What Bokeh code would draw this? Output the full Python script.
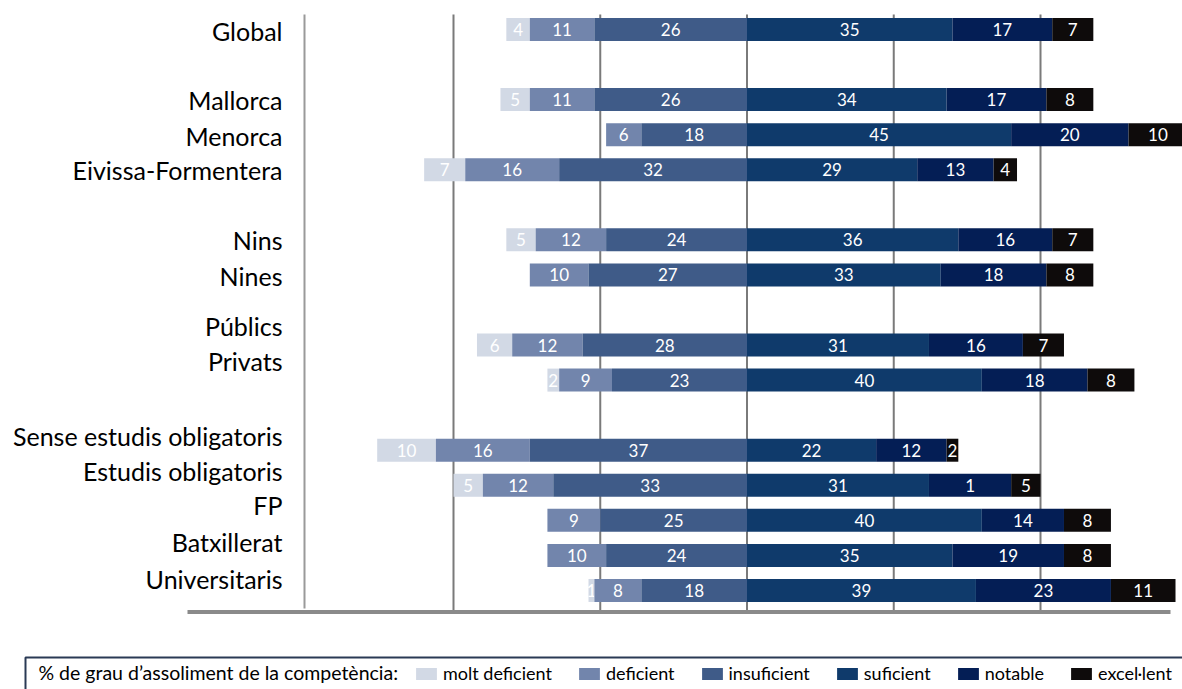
from bokeh.plotting import figure
from bokeh.models import Range1d, ColumnDataSource, Legend, LegendItem
from bokeh.core.properties import value
from bokeh.embed import file_html
from bokeh.resources import INLINE

# ---------------- data ----------------
categories = ["Global", "Mallorca", "Menorca", "Eivissa-Formentera",
              "Nins", "Nines", "Públics", "Privats",
              "Sense estudis obligatoris", "Estudis obligatoris", "FP",
              "Batxillerat", "Universitaris"]
levels = ["molt deficient", "deficient", "insuficient",
          "suficient", "notable", "excel·lent"]
molt_deficient = [4, 5, 0, 7, 5, 0, 6, 2, 10, 5, 0, 0, 1]
deficient = [11, 11, 6, 16, 12, 10, 12, 9, 16, 12, 9, 10, 8]
insuficient = [26, 26, 18, 32, 24, 27, 28, 23, 37, 33, 25, 24, 18]
suficient = [35, 34, 45, 29, 36, 33, 31, 40, 22, 31, 40, 35, 39]
notable = [17, 17, 20, 13, 16, 18, 16, 18, 12, 14, 14, 19, 23]
excellent = [7, 8, 10, 4, 7, 8, 7, 8, 2, 5, 8, 8, 11]
# label printed in the source differs from bar length for this cell
label_override = {("Estudis obligatoris", "notable"): "1"}
legend_title = "% de grau d’assoliment de la competència:"
grid_values = [-50, -25, 0, 25, 50]

# ---------------- layout / style ----------------
colors = ["#d2d9e5", "#7285ac", "#3f5b88", "#0f3a6b", "#041e55", "#0e0b0b"]
bar_slot = [0, 2, 3, 4, 6, 7, 9, 10, 12, 13, 14, 15, 16]
label_shift_px = [1, 0, 1, 0, 0, 1, -19, -19, -14, -14, -15, -13, -11]
PX_X = 5.87          # px per percentage point
PX_Y = 35.06         # px per row slot
W, H = 1182, 689
ZERO_PX = 746.5      # x pixel of 0
TOP_PX = 29          # y pixel of first bar centre

def vx(px):
    return (px - ZERO_PX) / PX_X

def vy(px):
    return (px - TOP_PX) / PX_Y

FONT = value("Lato")

p = figure(width=W, height=H, output_backend="svg", toolbar_location=None,
           x_axis_location=None, y_axis_location=None, min_border=0,
           x_range=Range1d(vx(0), vx(W)), y_range=Range1d(vy(H), vy(0)),
           outline_line_color=None, background_fill_color="white",
           border_fill_color="white")
p.grid.visible = False

y_top = vy(14)
y_bot = vy(610)

# gridlines
p.segment(x0=grid_values, x1=grid_values, y0=[y_top] * len(grid_values),
          y1=[y_bot] * len(grid_values), line_color="#7a7a7a", line_width=2)
# left axis line
p.segment(x0=[vx(304)], x1=[vx(304)], y0=[y_top], y1=[vy(608)],
          line_color="#9a9a9a", line_width=2)
# bottom thick line
p.segment(x0=[vx(187)], x1=[vx(1170)], y0=[vy(611.5)], y1=[vy(611.5)],
          line_color="#8a8a8a", line_width=4)

series = [molt_deficient, deficient, insuficient, suficient, notable, excellent]
n = len(categories)
bar_y = list(bar_slot)
renderers = []
for k, (name, vals, col) in enumerate(zip(levels, series, colors)):
    lefts, rights = [], []
    for i in range(n):
        if k < 3:
            outer = sum(series[j][i] for j in range(k, 3))
            inner = sum(series[j][i] for j in range(k + 1, 3))
            lefts.append(-outer)
            rights.append(-inner)
        else:
            inner = sum(series[j][i] for j in range(3, k))
            lefts.append(inner)
            rights.append(inner + vals[i])
    src = ColumnDataSource(dict(y=bar_y, left=lefts, right=rights))
    r = p.hbar(y="y", left="left", right="right", height=23 / PX_Y, source=src,
               fill_color=col, line_color=None)
    renderers.append(r)
    lx, ly, lt = [], [], []
    for i in range(n):
        if vals[i] > 0:
            lx.append((lefts[i] + rights[i]) / 2)
            ly.append(bar_y[i])
            lt.append(label_override.get((categories[i], name), str(vals[i])))
    p.text(x=lx, y=ly, text=lt, text_color="white", text_align="center",
           text_baseline="middle", text_font=FONT, text_font_size="17px")

# category labels
lab_y = [b + s / PX_Y for b, s in zip(bar_y, label_shift_px)]
p.text(x=[vx(282)] * n, y=lab_y, text=categories, text_color="#000000",
       text_align="right", text_baseline="middle", text_font=FONT,
       text_font_size="25px")

# legend box
p.quad(left=[vx(25)], right=[vx(W + 40)], top=[vy(657)], bottom=[vy(H + 40)],
       fill_color=None, line_color="#2a3a55", line_width=2)
p.text(x=[vx(38)], y=[vy(672)], text=[legend_title], text_color="#000000",
       text_align="left", text_baseline="middle", text_font=FONT,
       text_font_size="19.5px")

legend = Legend(items=[LegendItem(label=lv, renderers=[r]) for lv, r in zip(levels, renderers)],
                orientation="horizontal", location=(413, 5),
                background_fill_alpha=0, border_line_alpha=0,
                padding=0, margin=0, spacing=24, label_standoff=4,
                glyph_width=26, glyph_height=15, label_height=18,
                label_text_font="Lato", label_text_font_size="18px",
                label_text_color="#000000")
p.add_layout(legend)

open("out.html", "w").write(file_html(p, INLINE, "chart"))
